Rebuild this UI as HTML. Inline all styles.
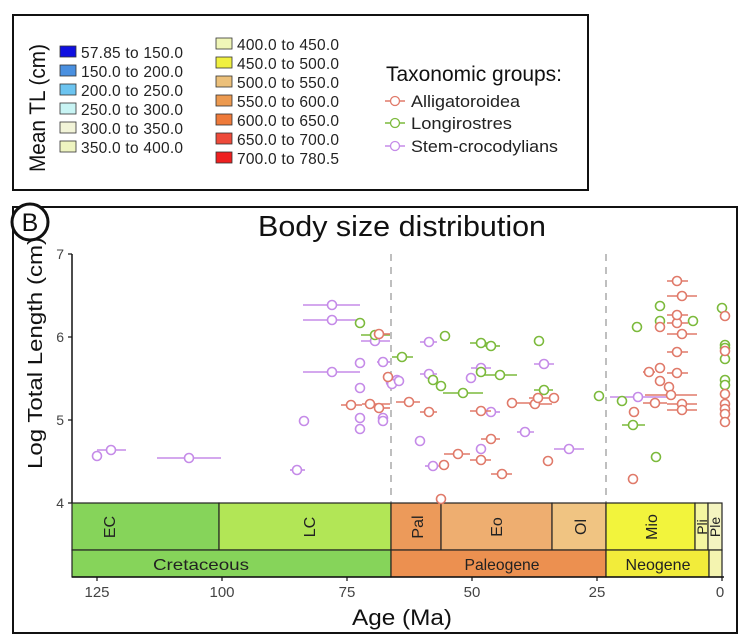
<!DOCTYPE html>
<html><head><meta charset="utf-8"><style>
html,body{margin:0;padding:0;background:#fff;}
svg{display:block;font-family:"Liberation Sans",Arial,sans-serif;}
</style></head><body>
<svg width="755" height="638" viewBox="0 0 755 638" xmlns="http://www.w3.org/2000/svg">
<rect width="755" height="638" fill="#fff"/>
<rect x="13" y="15" width="575" height="175" fill="#fff" stroke="#111" stroke-width="2"/>
<text transform="translate(45,172) rotate(-90)" font-size="22" fill="#111" textLength="128" lengthAdjust="spacingAndGlyphs">Mean TL (cm)</text>
<g stroke="#333" stroke-width="0.8">
<rect x="60" y="46" width="16" height="11" fill="#1010e0"/>
<rect x="60" y="65" width="16" height="11" fill="#4a90e0"/>
<rect x="60" y="84" width="16" height="11" fill="#6cc4f0"/>
<rect x="60" y="103" width="16" height="11" fill="#c8f4f4"/>
<rect x="60" y="122" width="16" height="11" fill="#f2f4d8"/>
<rect x="60" y="141" width="16" height="11" fill="#eef4c0"/>
<rect x="216" y="38" width="16" height="11" fill="#f0f6b8"/>
<rect x="216" y="57" width="16" height="11" fill="#f0f040"/>
<rect x="216" y="76" width="16" height="11" fill="#ecc07a"/>
<rect x="216" y="95" width="16" height="11" fill="#ec9a50"/>
<rect x="216" y="114" width="16" height="11" fill="#ee7a3a"/>
<rect x="216" y="133" width="16" height="11" fill="#ee4a3a"/>
<rect x="216" y="152" width="16" height="11" fill="#ee2020"/>
</g>
<g font-size="15.5" fill="#222" lengthAdjust="spacingAndGlyphs">
<text x="81" y="58" textLength="102">57.85 to 150.0</text>
<text x="81" y="77" textLength="102">150.0 to 200.0</text>
<text x="81" y="96" textLength="102">200.0 to 250.0</text>
<text x="81" y="115" textLength="102">250.0 to 300.0</text>
<text x="81" y="134" textLength="102">300.0 to 350.0</text>
<text x="81" y="153" textLength="102">350.0 to 400.0</text>
<text x="237" y="50" textLength="102">400.0 to 450.0</text>
<text x="237" y="69" textLength="102">450.0 to 500.0</text>
<text x="237" y="88" textLength="102">500.0 to 550.0</text>
<text x="237" y="107" textLength="102">550.0 to 600.0</text>
<text x="237" y="126" textLength="102">600.0 to 650.0</text>
<text x="237" y="145" textLength="102">650.0 to 700.0</text>
<text x="237" y="164" textLength="102">700.0 to 780.5</text>
</g>
<text x="386" y="81" font-size="21" fill="#111" textLength="176" lengthAdjust="spacingAndGlyphs">Taxonomic groups:</text>
<g font-size="16.5" fill="#222">
<line x1="385" y1="101" x2="405" y2="101" stroke="#e07a6a" stroke-width="1.5"/><circle cx="395" cy="101" r="4.5" fill="#fff" stroke="#e07a6a" stroke-width="1.3"/><text x="411" y="107" textLength="109" lengthAdjust="spacingAndGlyphs">Alligatoroidea</text>
<line x1="385" y1="123" x2="405" y2="123" stroke="#7cba3c" stroke-width="1.5"/><circle cx="395" cy="123" r="4.5" fill="#fff" stroke="#7cba3c" stroke-width="1.3"/><text x="411" y="129" textLength="101" lengthAdjust="spacingAndGlyphs">Longirostres</text>
<line x1="385" y1="146" x2="405" y2="146" stroke="#c58be8" stroke-width="1.5"/><circle cx="395" cy="146" r="4.5" fill="#fff" stroke="#c58be8" stroke-width="1.3"/><text x="411" y="152" textLength="147" lengthAdjust="spacingAndGlyphs">Stem-crocodylians</text>
</g>
<rect x="13" y="207" width="724" height="426" fill="#fff" stroke="#111" stroke-width="2"/>
<circle cx="30" cy="222" r="18" fill="#fff" stroke="#111" stroke-width="3"/>
<text x="30" y="231" font-size="25" text-anchor="middle" fill="#111">B</text>
<text x="258" y="236" font-size="29" fill="#111" textLength="288" lengthAdjust="spacingAndGlyphs">Body size distribution</text>
<line x1="72" y1="254" x2="72" y2="503" stroke="#111" stroke-width="1.5"/>
<g stroke="#111" stroke-width="1.2"><line x1="68" y1="254" x2="72" y2="254"/><line x1="68" y1="337" x2="72" y2="337"/><line x1="68" y1="420" x2="72" y2="420"/><line x1="68" y1="503" x2="72" y2="503"/></g>
<g font-size="14" fill="#444" text-anchor="end"><text x="64" y="259">7</text><text x="64" y="342">6</text><text x="64" y="425">5</text><text x="64" y="508">4</text></g>
<text transform="translate(42,353) rotate(-90)" font-size="20" text-anchor="middle" fill="#111" textLength="232" lengthAdjust="spacingAndGlyphs">Log Total Length (cm)</text>
<g stroke="#aaa" stroke-width="1.5" stroke-dasharray="7,6"><line x1="391" y1="254" x2="391" y2="503"/><line x1="606" y1="254" x2="606" y2="503"/></g>
<g stroke="#222" stroke-width="1.2">
<rect x="72" y="503" width="147" height="47" fill="#86d45a"/>
<rect x="219" y="503" width="172" height="47" fill="#b2e656"/>
<rect x="391" y="503" width="50" height="47" fill="#ec9a5a"/>
<rect x="441" y="503" width="111" height="47" fill="#eeae70"/>
<rect x="552" y="503" width="54" height="47" fill="#f0c482"/>
<rect x="606" y="503" width="89" height="47" fill="#f2f43c"/>
<rect x="695" y="503" width="13" height="47" fill="#f4f6a0"/>
<rect x="708" y="503" width="14" height="47" fill="#f4f4c0"/>
<rect x="72" y="550" width="319" height="27" fill="#86d45a"/>
<rect x="391" y="550" width="215" height="27" fill="#ec9050"/>
<rect x="606" y="550" width="103" height="27" fill="#f2ec3a"/>
<rect x="709" y="550" width="13" height="27" fill="#f4f4b0"/>
</g>
<line x1="72" y1="577" x2="724" y2="577" stroke="#111" stroke-width="1.5"/>
<g font-size="16" fill="#222" text-anchor="middle">
<text transform="translate(115,527) rotate(-90)">EC</text>
<text transform="translate(315,527) rotate(-90)">LC</text>
<text transform="translate(423,527) rotate(-90)">Pal</text>
<text transform="translate(502,527) rotate(-90)">Eo</text>
<text transform="translate(586,527) rotate(-90)">Ol</text>
<text transform="translate(657,527) rotate(-90)">Mio</text>
<text transform="translate(707,527) rotate(-90)" font-size="14">Pli</text>
<text transform="translate(720,527) rotate(-90)" font-size="14">Ple</text>
<text x="201" y="570" textLength="96" lengthAdjust="spacingAndGlyphs">Cretaceous</text>
<text x="502" y="570" textLength="75" lengthAdjust="spacingAndGlyphs">Paleogene</text>
<text x="658" y="570" textLength="65" lengthAdjust="spacingAndGlyphs">Neogene</text>
</g>
<g stroke="#111" stroke-width="1.2"><line x1="97" y1="577" x2="97" y2="581"/><line x1="222" y1="577" x2="222" y2="581"/><line x1="347" y1="577" x2="347" y2="581"/><line x1="472" y1="577" x2="472" y2="581"/><line x1="597" y1="577" x2="597" y2="581"/><line x1="722" y1="577" x2="722" y2="581"/></g>
<g font-size="15" fill="#444" text-anchor="middle"><text x="97" y="597">125</text><text x="222" y="597">100</text><text x="347" y="597">75</text><text x="472" y="597">50</text><text x="597" y="597">25</text><text x="720" y="597">0</text></g>
<text x="402" y="625" font-size="22" text-anchor="middle" fill="#111" textLength="100" lengthAdjust="spacingAndGlyphs">Age (Ma)</text>
<g stroke="#c58be8" stroke-width="1.6" fill="#fff">
<line x1="97" y1="450" x2="126" y2="450"/><line x1="157" y1="458" x2="221" y2="458"/><line x1="290" y1="470" x2="305" y2="470"/>
<line x1="303" y1="305" x2="360" y2="305"/><line x1="303" y1="320" x2="360" y2="320"/><line x1="303" y1="372" x2="360" y2="372"/>
<line x1="361" y1="341" x2="390" y2="341"/><line x1="377" y1="362" x2="390" y2="362"/>
<line x1="420" y1="342" x2="437" y2="342"/><line x1="420" y1="374" x2="437" y2="374"/><line x1="471" y1="368" x2="491" y2="368"/><line x1="485" y1="412" x2="500" y2="412"/><line x1="534" y1="364" x2="554" y2="364"/><line x1="517" y1="432" x2="534" y2="432"/><line x1="425" y1="466" x2="441" y2="466"/><line x1="554" y1="449" x2="584" y2="449"/><line x1="610" y1="397" x2="667" y2="397"/>
<circle cx="97" cy="456" r="4.5"/><circle cx="111" cy="450" r="4.5"/><circle cx="189" cy="458" r="4.5"/><circle cx="297" cy="470" r="4.5"/><circle cx="304" cy="421" r="4.5"/>
<circle cx="332" cy="305" r="4.5"/><circle cx="332" cy="320" r="4.5"/><circle cx="332" cy="372" r="4.5"/>
<circle cx="360" cy="363" r="4.5"/><circle cx="360" cy="388" r="4.5"/><circle cx="360" cy="418" r="4.5"/><circle cx="360" cy="429" r="4.5"/>
<circle cx="375" cy="341" r="4.5"/><circle cx="383" cy="362" r="4.5"/><circle cx="383" cy="418" r="4.5"/><circle cx="391" cy="382" r="4.5"/><circle cx="397" cy="380" r="4.5"/><circle cx="383" cy="421" r="4.5"/>
<circle cx="429" cy="342" r="4.5"/><circle cx="392" cy="384" r="4.5"/><circle cx="399" cy="381" r="4.5"/><circle cx="429" cy="374" r="4.5"/><circle cx="471" cy="378" r="4.5"/><circle cx="481" cy="368" r="4.5"/><circle cx="491" cy="412" r="4.5"/><circle cx="544" cy="364" r="4.5"/><circle cx="420" cy="441" r="4.5"/><circle cx="525" cy="432" r="4.5"/><circle cx="481" cy="449" r="4.5"/><circle cx="433" cy="466" r="4.5"/><circle cx="569" cy="449" r="4.5"/><circle cx="638" cy="397" r="4.5"/>
</g>
<g stroke="#7cba3c" stroke-width="1.6" fill="#fff">
<line x1="361" y1="335" x2="390" y2="335"/><line x1="392" y1="357" x2="413" y2="357"/><line x1="470" y1="343" x2="491" y2="343"/><line x1="485" y1="346" x2="500" y2="346"/><line x1="481" y1="375" x2="517" y2="375"/><line x1="443" y1="393" x2="483" y2="393"/><line x1="534" y1="390" x2="553" y2="390"/><line x1="622" y1="425" x2="645" y2="425"/>
<circle cx="360" cy="323" r="4.5"/><circle cx="375" cy="335" r="4.5"/><circle cx="445" cy="336" r="4.5"/><circle cx="481" cy="343" r="4.5"/><circle cx="491" cy="346" r="4.5"/><circle cx="402" cy="357" r="4.5"/><circle cx="433" cy="380" r="4.5"/><circle cx="441" cy="386" r="4.5"/><circle cx="481" cy="372" r="4.5"/><circle cx="500" cy="375" r="4.5"/><circle cx="463" cy="393" r="4.5"/><circle cx="539" cy="341" r="4.5"/><circle cx="544" cy="390" r="4.5"/><circle cx="599" cy="396" r="4.5"/><circle cx="622" cy="401" r="4.5"/><circle cx="633" cy="425" r="4.5"/><circle cx="656" cy="457" r="4.5"/><circle cx="637" cy="327" r="4.5"/><circle cx="660" cy="306" r="4.5"/><circle cx="660" cy="321" r="4.5"/><circle cx="693" cy="321" r="4.5"/><circle cx="722" cy="308" r="4.5"/><circle cx="725" cy="345" r="4.5"/><circle cx="725" cy="348" r="4.5"/><circle cx="725" cy="359" r="4.5"/><circle cx="725" cy="380" r="4.5"/><circle cx="725" cy="385" r="4.5"/>
</g>
<g stroke="#e07a6a" stroke-width="1.6" fill="#fff">
<line x1="341" y1="405" x2="362" y2="405"/><line x1="362" y1="404" x2="390" y2="404"/><line x1="379" y1="408" x2="390" y2="408"/><line x1="379" y1="334" x2="390" y2="334"/>
<line x1="396" y1="402" x2="420" y2="402"/><line x1="420" y1="412" x2="437" y2="412"/><line x1="470" y1="411" x2="491" y2="411"/><line x1="507" y1="403" x2="537" y2="403"/><line x1="529" y1="404" x2="552" y2="404"/><line x1="529" y1="398" x2="552" y2="398"/><line x1="481" y1="439" x2="500" y2="439"/><line x1="444" y1="454" x2="470" y2="454"/><line x1="470" y1="460" x2="491" y2="460"/><line x1="491" y1="474" x2="512" y2="474"/>
<line x1="643" y1="403" x2="667" y2="403"/><line x1="643" y1="372" x2="655" y2="372"/><line x1="645" y1="395" x2="697" y2="395"/><line x1="667" y1="404" x2="697" y2="404"/><line x1="667" y1="410" x2="697" y2="410"/><line x1="667" y1="373" x2="688" y2="373"/><line x1="667" y1="352" x2="688" y2="352"/><line x1="667" y1="334" x2="697" y2="334"/><line x1="667" y1="323" x2="688" y2="323"/><line x1="667" y1="315" x2="688" y2="315"/><line x1="667" y1="296" x2="697" y2="296"/><line x1="667" y1="281" x2="688" y2="281"/>
<circle cx="379" cy="334" r="4.5"/><circle cx="388" cy="377" r="4.5"/><circle cx="351" cy="405" r="4.5"/><circle cx="370" cy="404" r="4.5"/><circle cx="379" cy="408" r="4.5"/>
<circle cx="409" cy="402" r="4.5"/><circle cx="429" cy="412" r="4.5"/><circle cx="481" cy="411" r="4.5"/><circle cx="512" cy="403" r="4.5"/><circle cx="535" cy="404" r="4.5"/><circle cx="538" cy="398" r="4.5"/><circle cx="554" cy="398" r="4.5"/><circle cx="491" cy="439" r="4.5"/><circle cx="458" cy="454" r="4.5"/><circle cx="481" cy="460" r="4.5"/><circle cx="444" cy="465" r="4.5"/><circle cx="502" cy="474" r="4.5"/><circle cx="548" cy="461" r="4.5"/><circle cx="441" cy="499" r="4.5"/>
<circle cx="633" cy="479" r="4.5"/><circle cx="634" cy="412" r="4.5"/><circle cx="655" cy="403" r="4.5"/><circle cx="649" cy="372" r="4.5"/><circle cx="660" cy="368" r="4.5"/><circle cx="660" cy="381" r="4.5"/><circle cx="669" cy="387" r="4.5"/><circle cx="671" cy="395" r="4.5"/><circle cx="682" cy="404" r="4.5"/><circle cx="682" cy="410" r="4.5"/><circle cx="677" cy="373" r="4.5"/><circle cx="677" cy="352" r="4.5"/><circle cx="682" cy="334" r="4.5"/><circle cx="677" cy="323" r="4.5"/><circle cx="677" cy="315" r="4.5"/><circle cx="682" cy="296" r="4.5"/><circle cx="677" cy="281" r="4.5"/><circle cx="660" cy="327" r="4.5"/>
<circle cx="725" cy="316" r="4.5"/><circle cx="725" cy="351" r="4.5"/><circle cx="725" cy="394" r="4.5"/><circle cx="725" cy="404" r="4.5"/><circle cx="725" cy="409" r="4.5"/><circle cx="725" cy="414" r="4.5"/><circle cx="725" cy="422" r="4.5"/>
</g>
</svg>
</body></html>
